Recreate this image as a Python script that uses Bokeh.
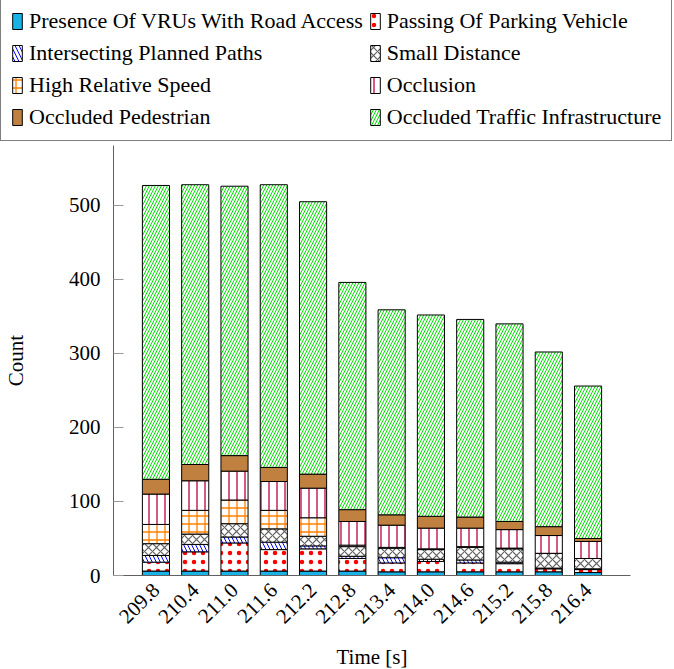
import math
from bokeh.plotting import figure
from bokeh.models import (FactorRange, Range1d, FixedTicker, ColumnDataSource,
                          Legend, LegendItem)
from bokeh.embed import file_html
from bokeh.resources import INLINE

times = ["209.8", "210.4", "211.0", "211.6", "212.2", "212.8",
         "213.4", "214.0", "214.6", "215.2", "215.8", "216.4"]

presence_vru = [6, 6, 6, 6, 6, 6, 5, 5, 5, 5, 5, 4]
passing_parking = [12, 26, 38, 29, 30, 17, 12, 14, 12, 11, 4, 4]
intersecting_paths = [9, 10, 8, 10, 4, 3, 7, 3, 4, 2, 1, 1]
small_distance = [16, 14, 18, 18, 13, 13, 13, 13, 17, 18, 20, 14]
high_rel_speed = [26, 32, 32, 25, 25, 2, 1, 1, 1, 1, 0, 0]
occlusion = [41, 40, 39, 39, 40, 32, 30, 28, 25, 25, 24, 23]
occluded_ped = [20, 22, 21, 19, 19, 16, 14, 16, 15, 11, 12, 4]
occluded_infra = [397, 378, 364, 382, 368, 307, 277, 272, 267, 267, 236, 206]

y_ticks = [0, 100, 200, 300, 400, 500]

labels = ["Presence Of VRUs With Road Access", "Passing Of Parking Vehicle",
          "Intersecting Planned Paths", "Small Distance",
          "High Relative Speed", "Occlusion",
          "Occluded Pedestrian", "Occluded Traffic Infrastructure"]
keys = ["presence_vru", "passing_parking", "intersecting_paths", "small_distance",
        "high_rel_speed", "occlusion", "occluded_ped", "occluded_infra"]

source = ColumnDataSource(data=dict(
    times=times,
    presence_vru=presence_vru,
    passing_parking=passing_parking,
    intersecting_paths=intersecting_paths,
    small_distance=small_distance,
    high_rel_speed=high_rel_speed,
    occlusion=occlusion,
    occluded_ped=occluded_ped,
    occluded_infra=occluded_infra,
))

FONT = "Liberation Serif"

fill_colors = ["#19B2E6", "white", "white", "white", "white", "white", "#BF8040", "white"]
hatch_patterns = [None, "dot", "left_diagonal_line", "diagonal_cross", "cross",
                  "vertical_line", None, "right_diagonal_line"]
hatch_colors = ["black", "#FF0000", "#0000FF", "#606060", "#FF8000", "#BF0040", "black", "#00E000"]
hatch_scales = [8, 9, 8, 8, 8, 8, 8, 6]
hatch_weights = [1, 2.5, 1, 1.2, 1.3, 1.3, 1, 1]

style = dict(fill_color=fill_colors, hatch_pattern=hatch_patterns,
             hatch_color=hatch_colors, hatch_scale=hatch_scales,
             hatch_weight=hatch_weights, line_color="black", line_width=1)

# ---- legend strip: its own canvas so the legend can span the full width ----
# (the stack is repeated only as legend proxies; the y range keeps it out of view)
lf = figure(width=674, height=143,
            x_range=FactorRange(factors=times), y_range=Range1d(-2, -1),
            min_border=0, x_axis_location=None, y_axis_location=None,
            output_backend="svg", toolbar_location=None)
lf.xgrid.visible = False
lf.ygrid.visible = False
lf.outline_line_color = None
proxies = lf.vbar_stack(keys, x="times", width=0.69, source=source, **style)

order = [0, 2, 4, 6, 1, 3, 5, 7]  # two columns, read row by row
items = [LegendItem(label=labels[i], renderers=[proxies[i]]) for i in order]
leg = Legend(items=items, location=(0, 2), ncols=2)
leg.label_text_font = FONT
leg.label_text_font_size = "22px"
leg.label_text_color = "black"
leg.glyph_width = 12
leg.glyph_height = 20
leg.label_standoff = 6
leg.spacing = 6
leg.padding = 10
leg.margin = 0
leg.border_line_color = "black"
leg.border_line_width = 1
leg.background_fill_alpha = 1
lf.add_layout(leg, "center")

# ---- main chart ----
p = figure(
    x_range=FactorRange(factors=times, range_padding=0.0967),
    y_range=Range1d(0, 581),
    frame_width=517, frame_height=430,
    min_border_left=111, min_border_right=46,
    min_border_top=2, min_border_bottom=94,
    output_backend="svg", toolbar_location=None,
)

p.vbar_stack(keys, x="times", width=0.69, source=source, **style)

p.xgrid.visible = False
p.ygrid.visible = False
p.outline_line_color = None

p.yaxis.ticker = FixedTicker(ticks=y_ticks)
p.yaxis.minor_tick_line_color = None
p.yaxis.major_tick_in = 10
p.yaxis.major_tick_out = 0
p.yaxis.major_tick_line_color = "#9a9a9a"
p.yaxis.axis_line_color = "#606060"
p.yaxis.major_label_standoff = 13
p.yaxis.axis_label = "Count"
p.yaxis.axis_label_standoff = 38

p.xaxis.major_tick_line_color = None
p.xaxis.minor_tick_line_color = None
p.xaxis.axis_line_color = "#606060"
p.xaxis.major_label_orientation = math.pi / 4
p.xaxis.major_label_standoff = 5
p.xaxis.axis_label = "Time [s]"
p.xaxis.axis_label_standoff = 12

for ax in (p.xaxis, p.yaxis):
    ax.major_label_text_font = FONT
    ax.major_label_text_font_size = "21px"
    ax.major_label_text_color = "black"
    ax.axis_label_text_font = FONT
    ax.axis_label_text_font_size = "21px"
    ax.axis_label_text_font_style = "normal"
    ax.axis_label_text_color = "black"

open("out.html", "w").write(file_html([lf, p], INLINE))
